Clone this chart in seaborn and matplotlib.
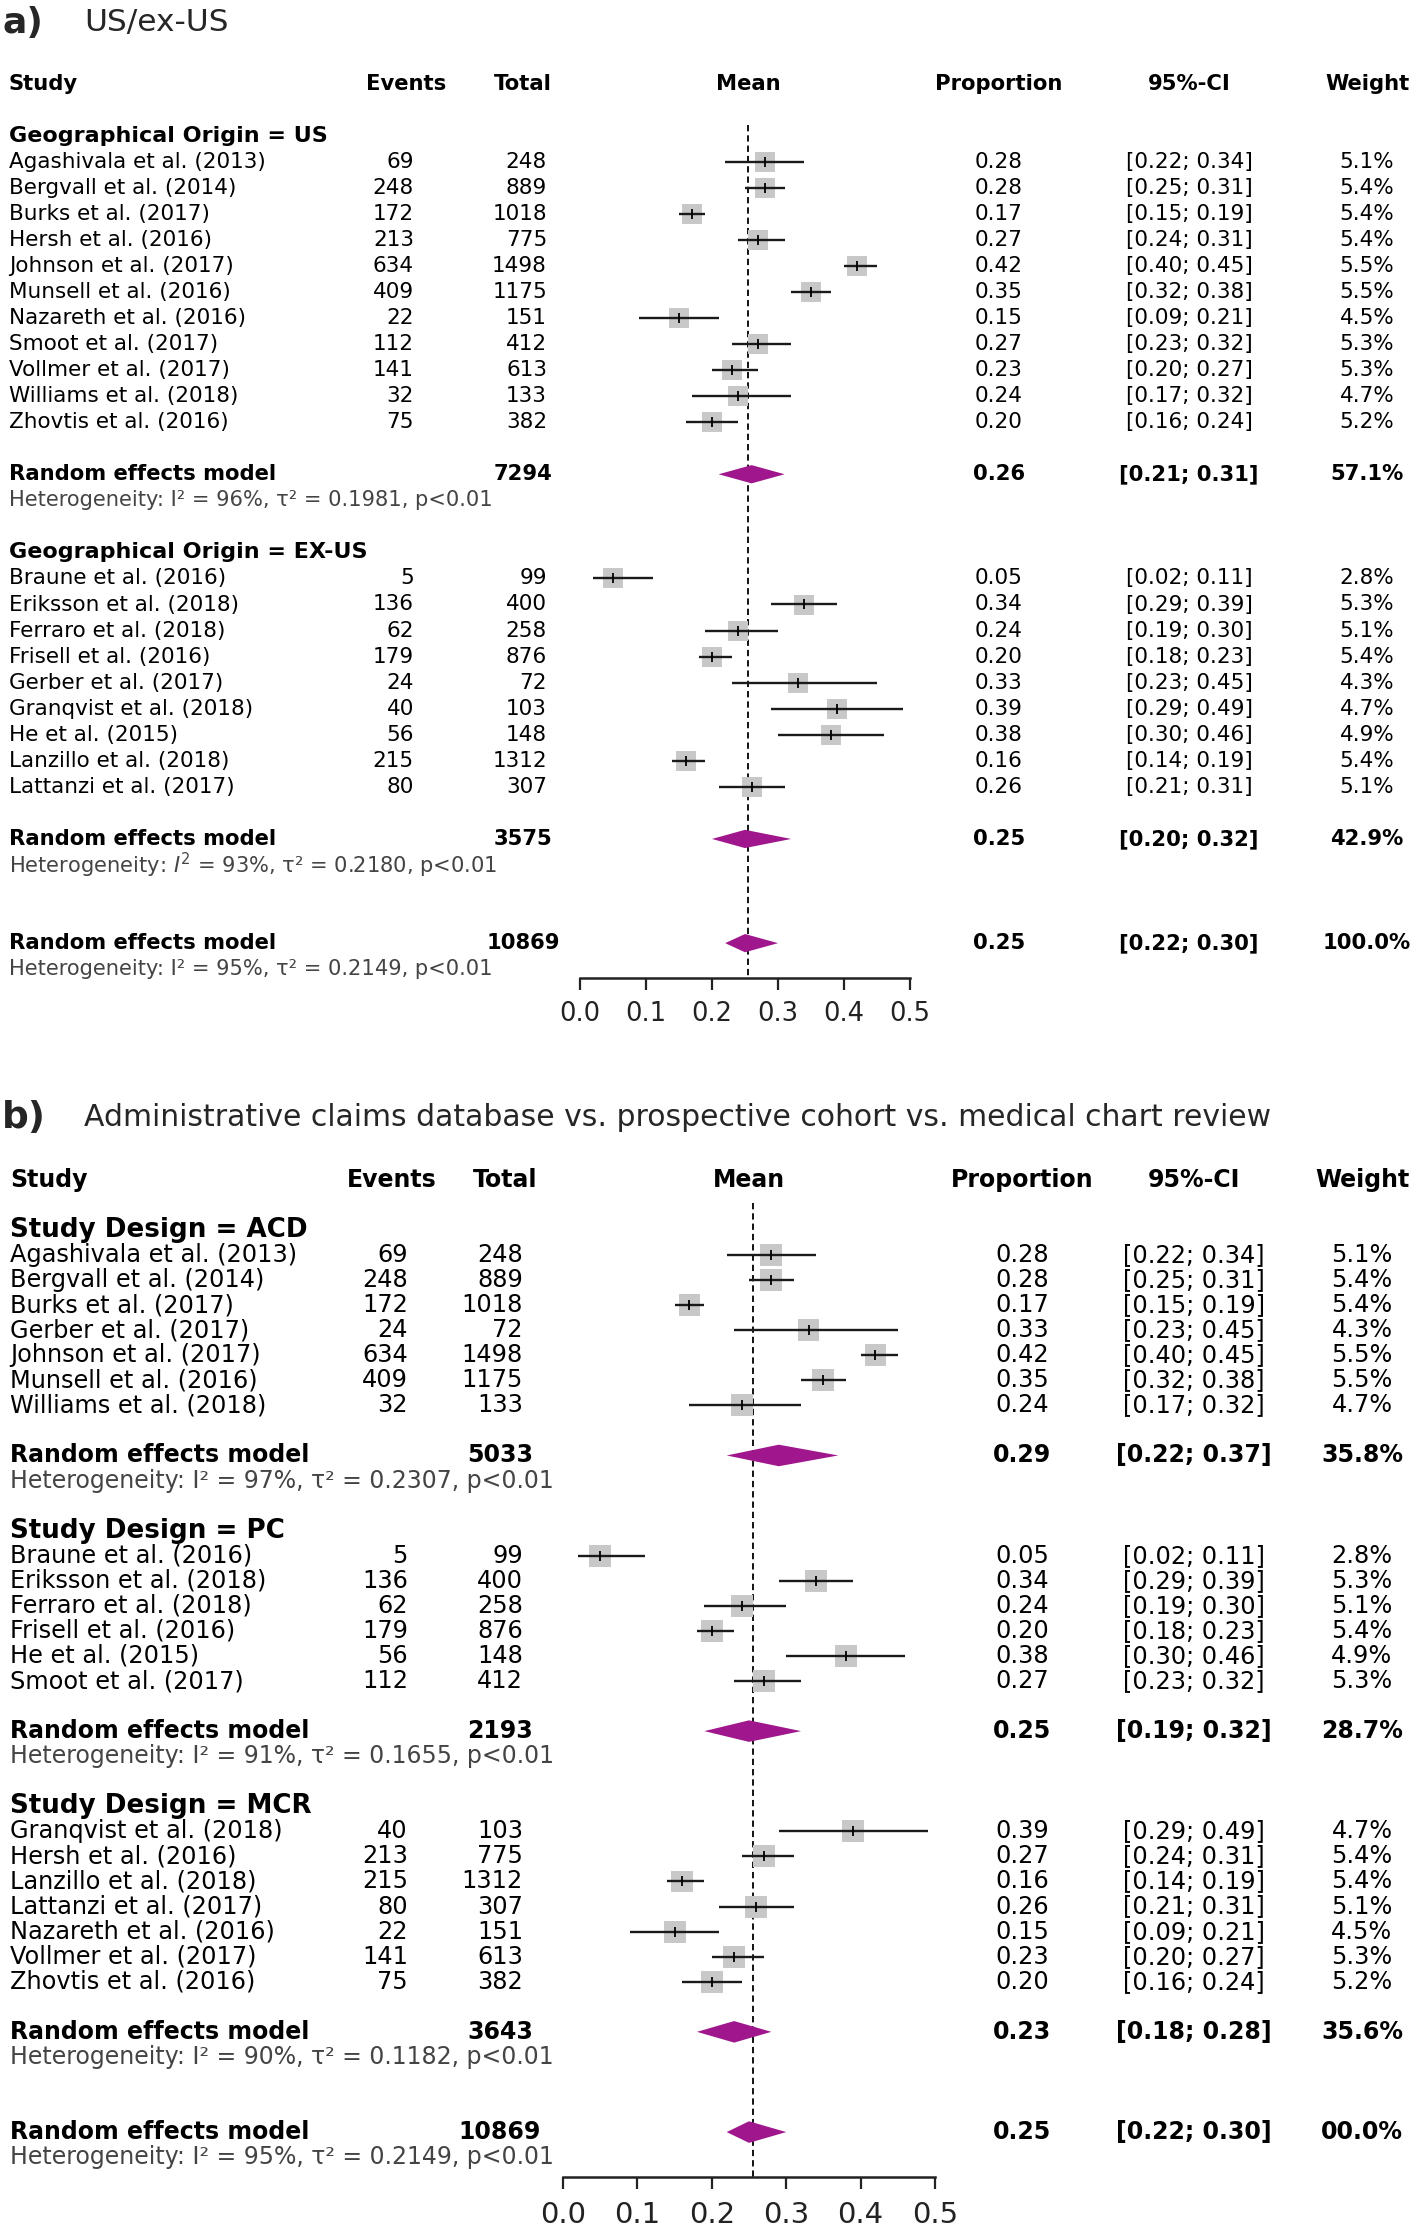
import matplotlib
matplotlib.use("Agg")
import matplotlib.pyplot as plt
import matplotlib.transforms as mtransforms
import pandas as pd
import seaborn as sns

# ---- study level data ----
study_names = [
    "Agashivala et al. (2013)", "Bergvall et al. (2014)", "Braune et al. (2016)",
    "Burks et al. (2017)", "Eriksson et al. (2018)", "Ferraro et al. (2018)",
    "Frisell et al. (2016)", "Gerber et al. (2017)", "Granqvist et al. (2018)",
    "He et al. (2015)", "Hersh et al. (2016)", "Johnson et al. (2017)",
    "Lanzillo et al. (2018)", "Lattanzi et al. (2017)", "Munsell et al. (2016)",
    "Nazareth et al. (2016)", "Smoot et al. (2017)", "Vollmer et al. (2017)",
    "Williams et al. (2018)", "Zhovtis et al. (2016)",
]
events = [69, 248, 5, 172, 136, 62, 179, 24, 40, 56, 213, 634, 215, 80, 409, 22, 112, 141, 32, 75]
totals = [248, 889, 99, 1018, 400, 258, 876, 72, 103, 148, 775, 1498, 1312, 307, 1175, 151, 412, 613, 133, 382]
props = [0.28, 0.28, 0.05, 0.17, 0.34, 0.24, 0.20, 0.33, 0.39, 0.38, 0.27, 0.42, 0.16, 0.26, 0.35, 0.15, 0.27, 0.23, 0.24, 0.20]
ci_low = [0.22, 0.25, 0.02, 0.15, 0.29, 0.19, 0.18, 0.23, 0.29, 0.30, 0.24, 0.40, 0.14, 0.21, 0.32, 0.09, 0.23, 0.20, 0.17, 0.16]
ci_high = [0.34, 0.31, 0.11, 0.19, 0.39, 0.30, 0.23, 0.45, 0.49, 0.46, 0.31, 0.45, 0.19, 0.31, 0.38, 0.21, 0.32, 0.27, 0.32, 0.24]
weights = [5.1, 5.4, 2.8, 5.4, 5.3, 5.1, 5.4, 4.3, 4.7, 4.9, 5.4, 5.5, 5.4, 5.1, 5.5, 4.5, 5.3, 5.3, 4.7, 5.2]

studies = pd.DataFrame({"name": study_names, "events": events, "total": totals,
                        "prop": props, "lo": ci_low, "hi": ci_high, "weight": weights}).set_index("name")

# ---- panel a: geographical origin ----
a_group_labels = ["Geographical Origin = US", "Geographical Origin = EX-US"]
a_group_members = [
    ["Agashivala et al. (2013)", "Bergvall et al. (2014)", "Burks et al. (2017)", "Hersh et al. (2016)",
     "Johnson et al. (2017)", "Munsell et al. (2016)", "Nazareth et al. (2016)", "Smoot et al. (2017)",
     "Vollmer et al. (2017)", "Williams et al. (2018)", "Zhovtis et al. (2016)"],
    ["Braune et al. (2016)", "Eriksson et al. (2018)", "Ferraro et al. (2018)", "Frisell et al. (2016)",
     "Gerber et al. (2017)", "Granqvist et al. (2018)", "He et al. (2015)", "Lanzillo et al. (2018)",
     "Lattanzi et al. (2017)"],
]
a_pooled_total = [7294, 3575]
a_pooled_prop = [0.26, 0.25]
a_pooled_lo = [0.21, 0.20]
a_pooled_hi = [0.31, 0.32]
a_pooled_weight = ["57.1%", "42.9%"]
a_het = ["Heterogeneity: I² = 96%, τ² = 0.1981, p<0.01",
         "Heterogeneity: $I^2$ = 93%, τ² = 0.2180, p<0.01"]

# ---- panel b: study design ----
b_group_labels = ["Study Design = ACD", "Study Design = PC", "Study Design = MCR"]
b_group_members = [
    ["Agashivala et al. (2013)", "Bergvall et al. (2014)", "Burks et al. (2017)", "Gerber et al. (2017)",
     "Johnson et al. (2017)", "Munsell et al. (2016)", "Williams et al. (2018)"],
    ["Braune et al. (2016)", "Eriksson et al. (2018)", "Ferraro et al. (2018)", "Frisell et al. (2016)",
     "He et al. (2015)", "Smoot et al. (2017)"],
    ["Granqvist et al. (2018)", "Hersh et al. (2016)", "Lanzillo et al. (2018)", "Lattanzi et al. (2017)",
     "Nazareth et al. (2016)", "Vollmer et al. (2017)", "Zhovtis et al. (2016)"],
]
b_pooled_total = [5033, 2193, 3643]
b_pooled_prop = [0.29, 0.25, 0.23]
b_pooled_lo = [0.22, 0.19, 0.18]
b_pooled_hi = [0.37, 0.32, 0.28]
b_pooled_weight = ["35.8%", "28.7%", "35.6%"]
b_het = ["Heterogeneity: I² = 97%, τ² = 0.2307, p<0.01",
         "Heterogeneity: I² = 91%, τ² = 0.1655, p<0.01",
         "Heterogeneity: I² = 90%, τ² = 0.1182, p<0.01"]

# ---- overall random effects model (same in both panels) ----
overall_total = 10869
overall_prop = 0.25
overall_lo = 0.22
overall_hi = 0.30
overall_line = 0.255
overall_het = "Heterogeneity: I² = 95%, τ² = 0.2149, p<0.01"
overall_weight = {"a": "100.0%", "b": "00.0%"}

tick_values = [0.0, 0.1, 0.2, 0.3, 0.4, 0.5]

sns.set_theme(style="white")
plt.rcParams["font.family"] = ["DejaVu Sans"]

W, H = 1418, 2233
fig = plt.figure(figsize=(W / 100, H / 100), dpi=100)

SQUARE = "#c8c8c8"
DIAMOND = "#a0168c"
HETCOL = "#444444"

# layout of each panel in pixels of the final image
cfg_a = dict(key="a", y0=83.5, u=26.05, top_row=-1.0, axis_row=34.35, dash_top=1.6,
             x_zero=580, x_half=910,
             study_x=9, events_r=414, total_r=547, total_bold_c=523,
             prop_c=999, ci_c=1189, weight_c=1367,
             hdr_events=406, hdr_total=523, hdr_mean=748,
             body=15.5, bold=15.2, group=16.0, het=15.1, tick=18.5, pad=8,
             sq=14.4, dia_h=0.35)
cfg_b = dict(key="b", y0=1179.8, u=25.06, top_row=-1.0, axis_row=39.8, dash_top=0.93,
             x_zero=563, x_half=935,
             study_x=10, events_r=408, total_r=523, total_bold_c=500,
             prop_c=1022, ci_c=1194, weight_c=1362,
             hdr_events=392, hdr_total=505, hdr_mean=749,
             body=17.3, bold=17.0, group=18.8, het=17.0, tick=21.0, pad=9,
             sq=15.8, dia_h=0.43)


def draw_panel(cfg, labels, members, p_tot, p_prop, p_lo, p_hi, p_w, hets):
    y_axis = cfg["y0"] + cfg["u"] * cfg["axis_row"]
    y_top = cfg["y0"] + cfg["u"] * cfg["top_row"]
    ax = fig.add_axes([cfg["x_zero"] / W, 1 - y_axis / H,
                       (cfg["x_half"] - cfg["x_zero"]) / W, (y_axis - y_top) / H])
    ax.set_xlim(0, 0.5)
    ax.set_ylim(cfg["axis_row"], cfg["top_row"])
    ax.patch.set_alpha(0)
    trans = mtransforms.blended_transform_factory(fig.transFigure, ax.transData)

    def put(x, row, s, ha="left", size=None, weight="normal", color="black"):
        ax.text(x / W, row, s, transform=trans, ha=ha, va="center",
                fontsize=size or cfg["body"], fontweight=weight, color=color)

    # column headers
    put(cfg["study_x"], 0, "Study", size=cfg["bold"], weight="bold")
    put(cfg["hdr_events"], 0, "Events", ha="center", size=cfg["bold"], weight="bold")
    put(cfg["hdr_total"], 0, "Total", ha="center", size=cfg["bold"], weight="bold")
    put(cfg["hdr_mean"], 0, "Mean", ha="center", size=cfg["bold"], weight="bold")
    put(cfg["prop_c"], 0, "Proportion", ha="center", size=cfg["bold"], weight="bold")
    put(cfg["ci_c"], 0, "95%-CI", ha="center", size=cfg["bold"], weight="bold")
    put(cfg["weight_c"], 0, "Weight", ha="center", size=cfg["bold"], weight="bold")

    rows = []
    pooled = []
    row = 2
    for g, label in enumerate(labels):
        put(cfg["study_x"], row, label, size=cfg["group"], weight="bold")
        for name in members[g]:
            row += 1
            rows.append((name, row))
        row += 2
        pooled.append((row, p_prop[g], p_lo[g], p_hi[g]))
        put(cfg["study_x"], row, "Random effects model", size=cfg["bold"], weight="bold")
        put(cfg["total_bold_c"], row, str(p_tot[g]), ha="center", size=cfg["bold"], weight="bold")
        put(cfg["prop_c"], row, f"{p_prop[g]:.2f}", ha="center", size=cfg["bold"], weight="bold")
        put(cfg["ci_c"], row, f"[{p_lo[g]:.2f}; {p_hi[g]:.2f}]", ha="center", size=cfg["bold"], weight="bold")
        put(cfg["weight_c"], row, p_w[g], ha="center", size=cfg["bold"], weight="bold")
        row += 1
        put(cfg["study_x"], row, hets[g], size=cfg["het"], color=HETCOL)
        row += 2

    # overall model
    row += 1
    pooled.append((row, overall_prop, overall_lo, overall_hi))
    put(cfg["study_x"], row, "Random effects model", size=cfg["bold"], weight="bold")
    put(cfg["total_bold_c"], row, str(overall_total), ha="center", size=cfg["bold"], weight="bold")
    put(cfg["prop_c"], row, f"{overall_prop:.2f}", ha="center", size=cfg["bold"], weight="bold")
    put(cfg["ci_c"], row, f"[{overall_lo:.2f}; {overall_hi:.2f}]", ha="center", size=cfg["bold"], weight="bold")
    put(cfg["weight_c"], row, overall_weight[cfg["key"]], ha="center", size=cfg["bold"], weight="bold")
    put(cfg["study_x"], row + 1, overall_het, size=cfg["het"], color=HETCOL)

    df = studies.loc[[n for n, _ in rows]].copy()
    df["row"] = [r for _, r in rows]
    for name, r in rows:
        put(cfg["study_x"], r, name)
        put(cfg["events_r"], r, str(int(df.at[name, "events"])), ha="right")
        put(cfg["total_r"], r, str(int(df.at[name, "total"])), ha="right")
        put(cfg["prop_c"], r, f"{df.at[name, 'prop']:.2f}", ha="center")
        put(cfg["ci_c"], r, f"[{df.at[name, 'lo']:.2f}; {df.at[name, 'hi']:.2f}]", ha="center")
        put(cfg["weight_c"], r, f"{df.at[name, 'weight']:.1f}%", ha="center")

    # reference line at the overall estimate
    ax.vlines(overall_line, cfg["dash_top"], cfg["axis_row"], color="black",
              lw=1.3, linestyles=(0, (3.5, 2.2)), zorder=1)

    # study markers: grey squares, CI line, small tick at the estimate
    sns.scatterplot(data=df, x="prop", y="row", marker="s", s=cfg["sq"] ** 2,
                    color=SQUARE, edgecolor="none", linewidth=0, ax=ax, zorder=2, legend=False)
    ax.hlines(df["row"], df["lo"], df["hi"], color="#1a1a1a", lw=1.7, zorder=3)
    ax.scatter(df["prop"], df["row"], marker="|", s=55, color="black", linewidths=1.3, zorder=4)

    # pooled diamonds
    h = cfg["dia_h"]
    for r, p, lo, hi in pooled:
        ax.fill([lo, p, hi, p], [r, r - h, r, r + h], color=DIAMOND, lw=0, zorder=3)

    for side in ["top", "left", "right"]:
        ax.spines[side].set_visible(False)
    ax.spines["bottom"].set_bounds(0, 0.5)
    ax.spines["bottom"].set_linewidth(1.8)
    ax.spines["bottom"].set_color("#222222")
    ax.set_xticks(tick_values)
    ax.set_xticklabels([f"{t:.1f}" for t in tick_values])
    ax.set_yticks([])
    ax.set_xlabel("")
    ax.set_ylabel("")
    ax.tick_params(axis="x", bottom=True, direction="out", length=8.5, width=1.6,
                   color="#222222", labelsize=cfg["tick"], pad=cfg["pad"], labelcolor="#222222")
    ax.grid(False)
    return ax


draw_panel(cfg_a, a_group_labels, a_group_members, a_pooled_total, a_pooled_prop,
           a_pooled_lo, a_pooled_hi, a_pooled_weight, a_het)
draw_panel(cfg_b, b_group_labels, b_group_members, b_pooled_total, b_pooled_prop,
           b_pooled_lo, b_pooled_hi, b_pooled_weight, b_het)

# panel titles
fig.text(2 / W, 1 - 23 / H, "a)", fontsize=26, fontweight="bold", va="center", ha="left")
fig.text(84 / W, 1 - 23 / H, "US/ex-US", fontsize=22.5, va="center", ha="left")
fig.text(2 / W, 1 - 1118 / H, "b)", fontsize=27, fontweight="bold", va="center", ha="left")
fig.text(84 / W, 1 - 1118 / H,
         "Administrative claims database vs. prospective cohort vs. medical chart review",
         fontsize=21.5, va="center", ha="left")

fig.savefig("out.png", dpi=100, facecolor="white")
